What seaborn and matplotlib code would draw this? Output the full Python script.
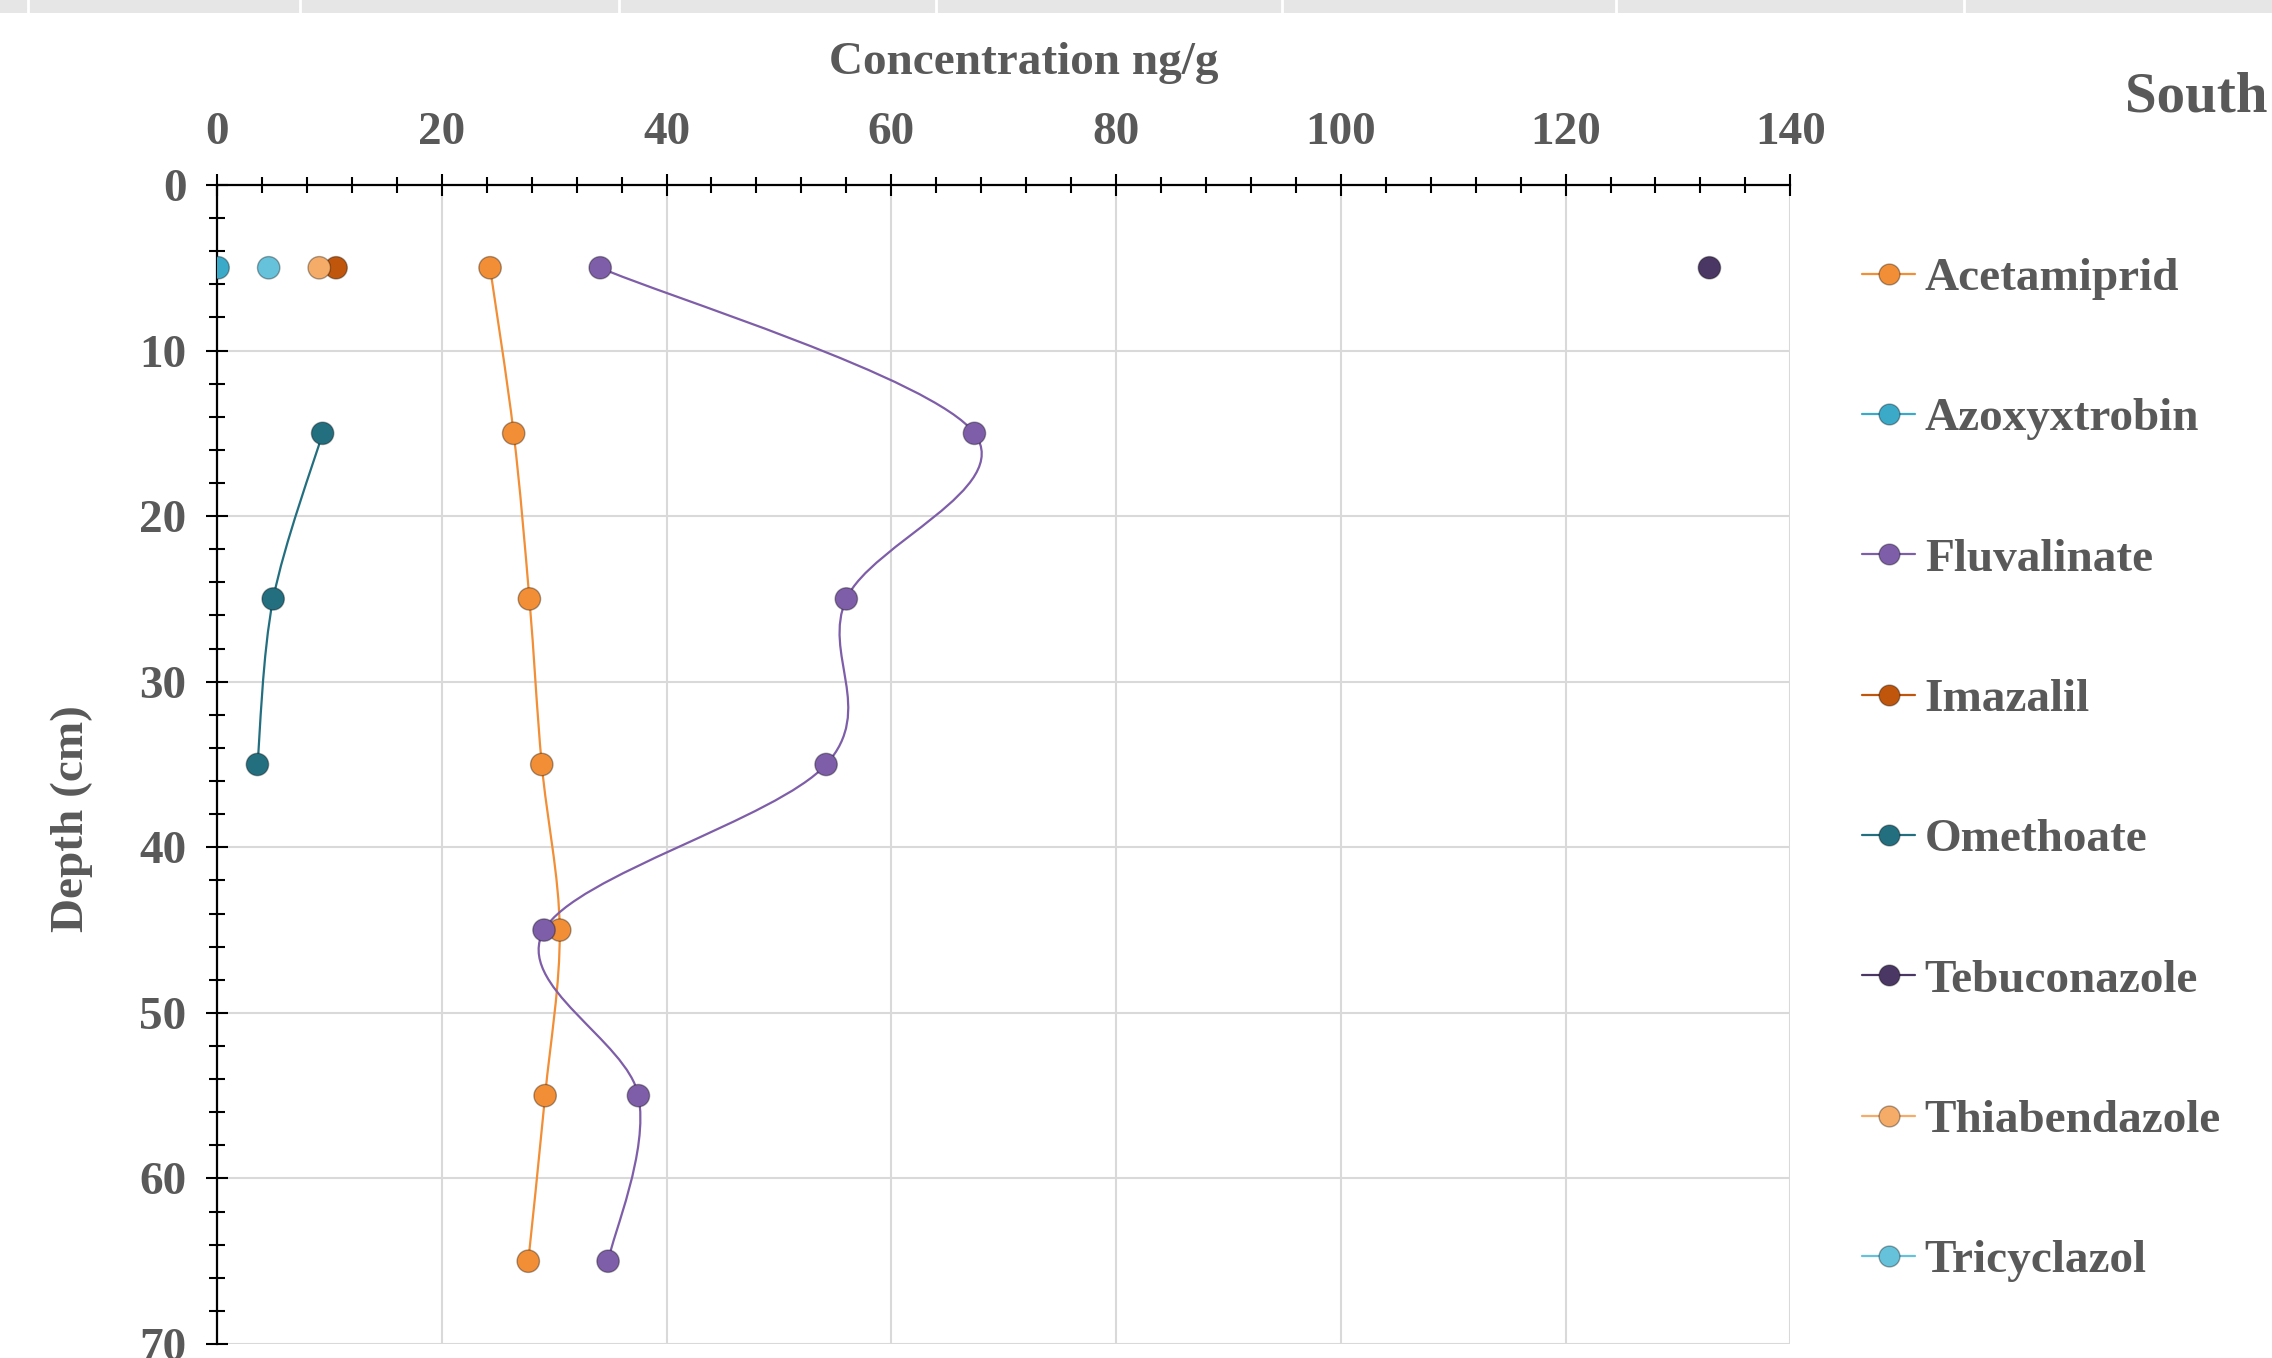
import numpy as np
import matplotlib
matplotlib.use("Agg")
import matplotlib.pyplot as plt
from matplotlib.path import Path
from matplotlib.patches import PathPatch, Rectangle
from matplotlib.lines import Line2D
from matplotlib.ticker import MultipleLocator
import pandas as pd
import seaborn as sns

# Series: depth (cm) and concentration (ng/g)
acetamiprid_depth = [5, 15, 25, 35, 45, 55, 65]
acetamiprid_conc = [24.3, 26.4, 27.8, 28.9, 30.5, 29.2, 27.7]

fluvalinate_depth = [5, 15, 25, 35, 45, 55, 65]
fluvalinate_conc = [34.1, 67.4, 56.0, 54.2, 29.1, 37.5, 34.8]

omethoate_depth = [15, 25, 35]
omethoate_conc = [9.4, 5.0, 3.6]

azoxyxtrobin_depth = [5]
azoxyxtrobin_conc = [0.1]

imazalil_depth = [5]
imazalil_conc = [10.6]

tebuconazole_depth = [5]
tebuconazole_conc = [132.8]

thiabendazole_depth = [5]
thiabendazole_conc = [9.1]

tricyclazol_depth = [5]
tricyclazol_conc = [4.6]

compounds = ['Acetamiprid', 'Azoxyxtrobin', 'Fluvalinate', 'Imazalil',
             'Omethoate', 'Tebuconazole', 'Thiabendazole', 'Tricyclazol']
colors = ['#F28E35', '#3BAAC9', '#7E5EA8', '#C0560C',
          '#236F80', '#4A3763', '#F5AC68', '#66C2DA']

series = {
    'Acetamiprid': (acetamiprid_conc, acetamiprid_depth),
    'Azoxyxtrobin': (azoxyxtrobin_conc, azoxyxtrobin_depth),
    'Fluvalinate': (fluvalinate_conc, fluvalinate_depth),
    'Imazalil': (imazalil_conc, imazalil_depth),
    'Omethoate': (omethoate_conc, omethoate_depth),
    'Tebuconazole': (tebuconazole_conc, tebuconazole_depth),
    'Thiabendazole': (thiabendazole_conc, thiabendazole_depth),
    'Tricyclazol': (tricyclazol_conc, tricyclazol_depth),
}

rows = []
for name in compounds:
    xs, ys = series[name]
    for x, y in zip(xs, ys):
        rows.append({'Compound': name, 'Concentration': x, 'Depth': y})
df = pd.DataFrame(rows)
palette = dict(zip(compounds, colors))

sns.set_style("white")
plt.rcParams['font.family'] = ['Liberation Serif', 'DejaVu Serif']
plt.rcParams['font.weight'] = 'bold'
text_color = '#595959'

fig = plt.figure(figsize=(22.72, 13.58), dpi=100)
ax = fig.add_axes([0.0955, 0.0103, 0.6925, 0.8535])


def smooth_path(xs, ys):
    # Excel-like smoothed line: cubic Bezier through the points
    pts = np.column_stack([xs, ys]).astype(float)
    verts = [pts[0]]
    codes = [Path.MOVETO]
    n = len(pts)
    for i in range(n - 1):
        p0 = pts[max(i - 1, 0)]
        p1 = pts[i]
        p2 = pts[i + 1]
        p3 = pts[min(i + 2, n - 1)]
        c1 = p1 + (p2 - p0) / 6.0
        c2 = p2 - (p3 - p1) / 6.0
        verts += [c1, c2, p2]
        codes += [Path.CURVE4] * 3
    return Path(verts, codes)


for name in compounds:
    xs, ys = series[name]
    if len(xs) > 1:
        patch = PathPatch(smooth_path(xs, ys), fill=False, edgecolor=palette[name],
                          lw=1.6, transform=ax.transData, zorder=2)
        ax.add_patch(patch)

sns.scatterplot(data=df, x='Concentration', y='Depth', hue='Compound',
                palette=palette, hue_order=compounds, s=260,
                edgecolor='#00000055', linewidth=1.0, legend=False,
                ax=ax, zorder=3)

ax.set_xlim(0, 140)
ax.set_ylim(70, 0)
ax.xaxis.set_major_locator(MultipleLocator(20))
ax.xaxis.set_minor_locator(MultipleLocator(4))
ax.yaxis.set_major_locator(MultipleLocator(10))
ax.yaxis.set_minor_locator(MultipleLocator(2))
ax.xaxis.tick_top()
ax.grid(True, which='major', color='#D9D9D9', lw=1.5)
ax.set_axisbelow(True)

for s in ['right', 'bottom']:
    ax.spines[s].set_visible(False)
for s in ['top', 'left']:
    ax.spines[s].set_color('black')
    ax.spines[s].set_linewidth(1.6)

ax.tick_params(axis='both', which='major', direction='inout', length=16,
               width=1.5, color='black', labelsize=34, labelcolor=text_color)
ax.tick_params(axis='both', which='minor', direction='inout', length=12,
               width=1.5, color='black')
ax.tick_params(axis='x', which='major', pad=14, top=True, bottom=False)
ax.tick_params(axis='x', which='minor', top=True, bottom=False)
ax.tick_params(axis='y', which='major', pad=14, left=True, right=False)
ax.tick_params(axis='y', which='minor', left=True, right=False)
for lab in ax.get_xticklabels() + ax.get_yticklabels():
    lab.set_fontweight('bold')

ax.set_xlabel('')
ax.set_ylabel('')
fig.text(1024 / 2272, 1 - 63 / 1358, 'Concentration ng/g', ha='center', va='center',
         fontsize=34, fontweight='bold', color=text_color)
fig.text(72 / 2272, 1 - 819 / 1358, 'Depth (cm)', ha='center', va='center',
         rotation=90, fontsize=34, fontweight='bold', color=text_color)
fig.text(2268 / 2272, 1 - 98 / 1358, 'South', ha='right', va='center',
         fontsize=41, fontweight='bold', color=text_color)

handles = [Line2D([0], [0], color=palette[n], lw=1.6, marker='o', markersize=15,
                  markerfacecolor=palette[n], markeredgecolor='#00000055')
           for n in compounds]
leg = fig.legend(handles, compounds, loc='upper left',
                 bbox_to_anchor=(1862 / 2272, 1 - 257 / 1358),
                 frameon=False, fontsize=34, handlelength=1.13,
                 handletextpad=0.2, labelspacing=2.06, borderpad=0,
                 borderaxespad=0)
for t in leg.get_texts():
    t.set_color(text_color)
    t.set_fontweight('bold')

# spreadsheet header strip along the top edge
fig.patches.append(Rectangle((0, 1 - 13 / 1358), 1, 13 / 1358, transform=fig.transFigure,
                             facecolor='#E6E6E6', edgecolor='none', zorder=0))
for xp in [28, 300, 619, 936, 1282, 1616, 1964]:
    fig.add_artist(Line2D([xp / 2272, xp / 2272], [1 - 13 / 1358, 1],
                          transform=fig.transFigure, color='white', lw=2))

fig.savefig('out.png', dpi=100)
